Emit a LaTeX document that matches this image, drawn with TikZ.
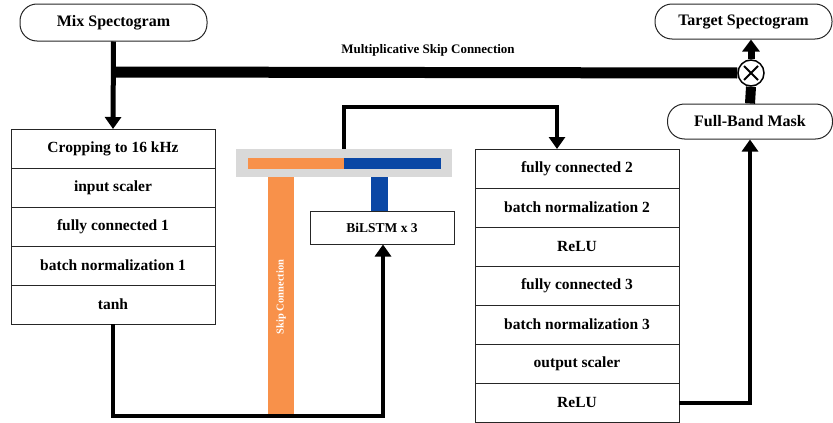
\documentclass[tikz,border=0pt]{standalone}
\usepackage{fontspec}
\setmainfont{Liberation Serif}
\usetikzlibrary{arrows.meta}
\usetikzlibrary{calc}
\usetikzlibrary{positioning}

\definecolor{skiporange}{HTML}{F8914A}
\definecolor{lstmblue}{HTML}{0A47A5}
\definecolor{concatgray}{HTML}{D9D9D9}

\begin{document}
\begin{tikzpicture}[x=1pt,y=-1pt,node distance=0pt,
                    layer box/.style={draw=black!85,line width=1pt,outer sep=0pt,inner sep=0pt,
                        minimum width=204pt,minimum height=39pt,font=\fontsize{15.5}{18}\selectfont\bfseries},
                    io box/.style={draw=black!85,line width=1pt,rounded corners=17pt,inner sep=0pt,
                        font=\fontsize{16}{19}\selectfont\bfseries},
                    flow/.style={line width=4pt,-{Triangle[width=16pt,length=12pt]}}]

    \useasboundingbox (0,0) rectangle (833,423);

    % inputs and outputs
    \node[io box, minimum width=187pt, minimum height=37pt] (mix) at (113.5,22.5) {Mix Spectogram};
    \node[io box, minimum width=177pt, minimum height=35pt] (target) at (743.5,21.5) {Target Spectogram};
    \node[io box, minimum width=165pt, minimum height=35pt] (mask) at (750,121.5) {Full-Band Mask};

    % left stack
    \node[layer box] (crop) at (113,148.5) {Cropping to 16 kHz};
    \node[layer box] (scaler) [below=of crop] {input scaler};
    \node[layer box] (fc1) [below=of scaler] {fully connected 1};
    \node[layer box] (bn1) [below=of fc1] {batch normalization 1};
    \node[layer box] (tanh) [below=of bn1] {tanh};

    % right stack
    \node[layer box] (fc2) at (577,168.5) {fully connected 2};
    \node[layer box] (bn2) [below=of fc2] {batch normalization 2};
    \node[layer box] (relu2) [below=of bn2] {ReLU};
    \node[layer box] (fc3) [below=of relu2] {fully connected 3};
    \node[layer box] (bn3) [below=of fc3] {batch normalization 3};
    \node[layer box] (outscaler) [below=of bn3] {output scaler};
    \node[layer box] (relu3) [below=of outscaler] {ReLU};

    % recurrent part
    \node[draw=black!85, line width=1pt, inner sep=0pt, minimum width=144pt, minimum height=33pt,
          font=\fontsize{13.5}{16}\selectfont\bfseries] (bilstm) at (382,227.5) {BiLSTM x 3};
    \node[fill=concatgray, inner sep=0pt, minimum width=216pt, minimum height=28pt] (concat) at (344,163) {};
    \fill[skiporange] (248,157.5) rectangle (344,168.5);
    \fill[lstmblue] (344,157.5) rectangle (441,168.5);
    \fill[lstmblue] (371,177) rectangle (388,211);
    \node[fill=skiporange, rotate=90, inner sep=0pt, minimum width=240pt, minimum height=26pt,
          text=white, font=\fontsize{10.5}{12}\selectfont\bfseries] (skip) at (281,297) {Skip Connection};

    % multiplicative skip
    \node[circle, draw=black, line width=1.5pt, fill=white, minimum size=26pt, inner sep=0pt,
          path picture={\draw[line width=2pt] (path picture bounding box.center) +(-7,-7) -- +(7,7)
                        +(-7,7) -- +(7,-7);}] (mult) at (751,73) {};
    \node[font=\fontsize{13}{15}\selectfont\bfseries] (multlabel) at (428,50) {Multiplicative Skip Connection};
    \coordinate (split) at (113,72);

    \draw[line width=11pt] (split) -- (mult.west);
    \draw[line width=10pt] (mask.north) -- (mult.south);
    \draw[line width=7pt,-{Triangle[width=17pt,length=12pt]}] (mult.north) -- (mult.north |- target.south);
    \draw[flow, line width=5pt] (mix.south) -- (crop.north);

    \coordinate (low) at (383,416);
    \coordinate (drop) at (557,107);
    \draw[flow] (tanh.south) |- (low) -- (low |- bilstm.south);
    \draw[flow] (concat.north) |- (drop) -- (drop |- fc2.north);
    \draw[flow] (relu3.east) -| (mask.south);
\end{tikzpicture}
\end{document}
